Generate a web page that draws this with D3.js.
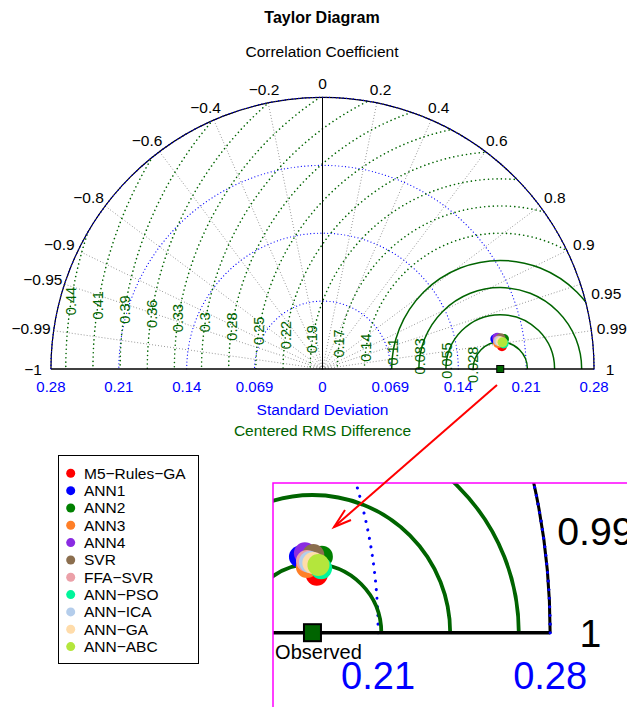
<!DOCTYPE html>
<html>
<head>
<meta charset="utf-8">
<script src="https://cdn.jsdelivr.net/npm/d3@7"></script>
<style>
  body { margin: 0; background: #fff; }
  svg { display: block; font-family: "Liberation Sans", Arial, sans-serif; }
</style>
</head>
<body>
<div id="chart"></div>
<script>
// --- Data ---
const modelNames  = ["M5−Rules−GA", "ANN1", "ANN2", "ANN3", "ANN4", "SVR", "FFA−SVR", "ANN−PSO", "ANN−ICA", "ANN−GA", "ANN−ABC"];
const modelColors = ["#ff0000", "#0000ff", "#008000", "#ff7f27", "#8a2be2", "#8b6e4e", "#eba0a8", "#00f59b", "#b4cdeb", "#ffdcaa", "#b4e63c"];
const modelStd    = [0.1844, 0.1788, 0.1875, 0.1809, 0.1810, 0.1842, 0.1813, 0.1865, 0.1824, 0.1837, 0.1856];
const modelCorr   = [0.9920, 0.9853, 0.9866, 0.9893, 0.9843, 0.9855, 0.9873, 0.9903, 0.9878, 0.9883, 0.9892];
const observedStd = 0.1812;

const stdMax        = 0.2768;
const stdTicks      = [0.0692, 0.1384, 0.2076, 0.2768];
const stdTickLabels = ["0.069", "0.14", "0.21", "0.28"];

const corrTicks      = [-1, -0.99, -0.95, -0.9, -0.8, -0.6, -0.4, -0.2, 0, 0.2, 0.4, 0.6, 0.8, 0.9, 0.95, 0.99, 1];
const corrTickLabels = ["−1", "−0.99", "−0.95", "−0.9", "−0.8", "−0.6", "−0.4", "−0.2", "0", "0.2", "0.4", "0.6", "0.8", "0.9", "0.95", "0.99", "1"];

const rmsTicks      = [0.0277, 0.0554, 0.0830, 0.1107, 0.1384, 0.1661, 0.1938, 0.2214, 0.2491, 0.2768, 0.3045, 0.3322, 0.3598, 0.3875, 0.4152, 0.4429];
const rmsTickLabels = ["0.028", "0.055", "0.083", "0.11", "0.14", "0.17", "0.19", "0.22", "0.25", "0.28", "0.3", "0.33", "0.36", "0.39", "0.41", "0.44"];

const GREEN = "#006400", BLUE = "#0000ff", GRAY = "#808080";

const svg = d3.select("#chart").append("svg")
    .attr("width", 627)
    .attr("height", 707);

function drawTaylor(g, o) {
    const s = d3.scaleLinear().domain([0, stdMax]).range([0, stdMax * o.pxPerUnit]);
    const R = s(stdMax);
    const f = o.f;
    const pt = (sd, ang) => [o.cx + s(sd) * Math.cos(ang), o.cy - s(sd) * Math.sin(ang)];
    const semi = (x, r) => {
        const p = d3.path();
        p.moveTo(x + r, o.cy);
        p.arc(x, o.cy, r, 0, -Math.PI, true);
        return p.toString();
    };
    // only keep texts that land inside the visible window (the inset is a crop)
    const inView = (x, y) => !o.box || (x > o.box[0] && x < o.box[2] && y > o.box[1] && y < o.box[3]);
    const obsX = o.cx + s(observedStd);

    const clipId = "semi-" + o.id;
    g.append("clipPath").attr("id", clipId)
        .append("path").attr("d", semi(o.cx, R + 0.5 * f) + "Z");

    // blue dotted std arcs
    g.append("g").selectAll("path")
        .data(stdTicks)
        .join("path")
        .attr("d", d => semi(o.cx, s(d)))
        .attr("fill", "none")
        .attr("stroke", BLUE)
        .attr("stroke-width", 1.2 * f)
        .attr("stroke-linecap", "round")
        .attr("stroke-dasharray", `0.01 ${3.4 * f}`);

    // gray correlation rays
    if (o.radials) {
        g.append("g").selectAll("line")
            .data(corrTicks.filter(c => Math.abs(c) < 1 && c !== 0))
            .join("line")
            .attr("x1", o.cx).attr("y1", o.cy)
            .attr("x2", d => pt(stdMax, Math.acos(d))[0])
            .attr("y2", d => pt(stdMax, Math.acos(d))[1])
            .attr("stroke", GRAY)
            .attr("stroke-width", 1)
            .attr("stroke-linecap", "round")
            .attr("stroke-dasharray", "0.01 3");
    }

    // green centered RMS arcs
    g.append("g").attr("clip-path", `url(#${clipId})`)
        .selectAll("path")
        .data(rmsTicks)
        .join("path")
        .attr("d", d => semi(obsX, s(d)))
        .attr("fill", "none")
        .attr("stroke", GREEN)
        .attr("stroke-width", (d, i) => (i < 4 ? 1.5 : 1.6) * f)
        .attr("stroke-linecap", (d, i) => i < 4 ? "butt" : "round")
        .attr("stroke-dasharray", (d, i) => i < 4 ? null : `0.01 ${4.3 * f}`);

    if (o.rmsLabels) {
        const a = 9 * Math.PI / 180;
        g.append("g").selectAll("text")
            .data(rmsTicks)
            .join("text")
            .attr("transform", d => `translate(${obsX - s(d) * Math.cos(a)},${o.cy - s(d) * Math.sin(a)}) rotate(-90)`)
            .attr("text-anchor", "middle")
            .attr("dominant-baseline", "central")
            .attr("font-size", 14.5 * f)
            .attr("fill", GREEN)
            .text((d, i) => rmsTickLabels[i]);
    }

    // axes lines
    g.append("line")
        .attr("x1", o.cx).attr("y1", o.cy).attr("x2", o.cx).attr("y2", o.cy - R)
        .attr("stroke", "#000").attr("stroke-width", 1 * f);
    g.append("line")
        .attr("x1", o.cx - R).attr("y1", o.cy).attr("x2", o.cx + R).attr("y2", o.cy)
        .attr("stroke", "#000").attr("stroke-width", 1.4 * f);
    g.append("path")
        .attr("d", semi(o.cx, R))
        .attr("fill", "none").attr("stroke", "#000").attr("stroke-width", 1.2 * f);
    g.append("path")
        .attr("d", semi(o.cx, R))
        .attr("fill", "none").attr("stroke", BLUE).attr("stroke-width", 1.2 * f)
        .attr("stroke-linecap", "round").attr("stroke-dasharray", `0.01 ${3.4 * f}`);

    // correlation labels
    corrTicks.forEach((c, i) => {
        const ang = Math.acos(c);
        const [x, y] = pt(stdMax, ang);
        const rOff = 14 * f;
        let lx = x + rOff * Math.cos(ang);
        let ly = y - rOff * Math.sin(ang);
        if (!inView(lx, ly)) return;
        const t = g.append("text")
            .attr("text-anchor", "middle")
            .attr("dominant-baseline", "central")
            .attr("font-size", 15.5 * f)
            .attr("fill", "#000")
            .text(corrTickLabels[i]);
        const w = t.node().getComputedTextLength();
        lx += 0.45 * (w / 2) * Math.cos(ang);
        if (c === 0.95) { lx += 6 * f; ly += 14 * f; }
        t.attr("x", lx).attr("y", ly);
    });

    // std tick labels
    const stdLab = g.append("g")
        .attr("font-size", 15 * f)
        .attr("fill", BLUE)
        .attr("text-anchor", "middle")
        .attr("dominant-baseline", "central");
    const ly = o.cy + 17 * f;
    stdTicks.forEach((t, i) => {
        [o.cx - s(t), o.cx + s(t)].forEach(x => {
            if (inView(x, ly)) stdLab.append("text").attr("x", x).attr("y", ly).text(stdTickLabels[i]);
        });
    });
    if (inView(o.cx, ly)) stdLab.append("text").attr("x", o.cx).attr("y", ly).text("0");

    // observed point
    g.append("rect")
        .attr("x", obsX - o.sq / 2).attr("y", o.cy - o.sq / 2)
        .attr("width", o.sq).attr("height", o.sq)
        .attr("fill", GREEN).attr("stroke", "#000").attr("stroke-width", o.sqStroke);
    if (o.obsLabel) {
        g.append("text")
            .attr("x", obsX + 6).attr("y", o.cy + 19)
            .attr("text-anchor", "middle")
            .attr("dominant-baseline", "central")
            .attr("font-size", 20)
            .text("Observed");
    }

    // models
    g.append("g").selectAll("circle")
        .data(modelNames)
        .join("circle")
        .attr("cx", (d, i) => pt(modelStd[i], Math.acos(modelCorr[i]))[0])
        .attr("cy", (d, i) => pt(modelStd[i], Math.acos(modelCorr[i]))[1])
        .attr("r", o.mr)
        .attr("fill", (d, i) => modelColors[i]);
}

// --- Titles ---
svg.append("text")
    .attr("x", 322).attr("y", 23)
    .attr("text-anchor", "middle")
    .attr("font-size", 16).attr("font-weight", "bold")
    .text("Taylor Diagram");
svg.append("text")
    .attr("x", 322).attr("y", 57)
    .attr("text-anchor", "middle")
    .attr("font-size", 15.5)
    .text("Correlation Coefficient");

// --- Main diagram ---
const main = svg.append("g");
drawTaylor(main, { id: "main", cx: 322.5, cy: 369, pxPerUnit: 981, f: 1, radials: true, rmsLabels: true,
    obsLabel: false, mr: 5, sq: 7, sqStroke: 1 });

svg.append("text")
    .attr("x", 322.5).attr("y", 409)
    .attr("text-anchor", "middle").attr("dominant-baseline", "central")
    .attr("font-size", 15.5).attr("fill", BLUE)
    .text("Standard Deviation");
svg.append("text")
    .attr("x", 322.5).attr("y", 430)
    .attr("text-anchor", "middle").attr("dominant-baseline", "central")
    .attr("font-size", 15.5).attr("fill", GREEN)
    .text("Centered RMS Difference");

// --- Legend ---
const legend = svg.append("g");
legend.append("rect")
    .attr("x", 58.5).attr("y", 455.5).attr("width", 140).attr("height", 208)
    .attr("fill", "#fff").attr("stroke", "#000").attr("stroke-width", 1);
modelNames.forEach((name, i) => {
    const y = 473.3 + i * 17.33;
    legend.append("circle").attr("cx", 70.7).attr("cy", y).attr("r", 4.5).attr("fill", modelColors[i]);
    legend.append("text")
        .attr("x", 84).attr("y", y)
        .attr("dominant-baseline", "central")
        .attr("font-size", 15.5)
        .text(name);
});

// --- Zoomed inset ---
const box = { x: 273, y: 483, w: 400, h: 300 };
svg.append("clipPath").attr("id", "inset-box")
    .append("rect").attr("x", box.x).attr("y", box.y).attr("width", box.w).attr("height", box.h);
const inset = svg.append("g").attr("clip-path", "url(#inset-box)");
inset.append("rect").attr("x", box.x).attr("y", box.y).attr("width", box.w).attr("height", box.h).attr("fill", "#fff");
drawTaylor(inset, { id: "inset", cx: -138, cy: 632.7, pxPerUnit: 2486, f: 2.534, radials: false, rmsLabels: false,
    obsLabel: true, mr: 11, sq: 17, sqStroke: 2, box: [box.x, box.y, box.x + box.w, box.y + box.h] });
svg.append("rect")
    .attr("x", box.x).attr("y", box.y).attr("width", box.w).attr("height", box.h)
    .attr("fill", "none").attr("stroke", "#ff00ff").attr("stroke-width", 1.5);

// --- Arrow from main cluster to inset ---
const arrow = svg.append("g").attr("stroke", "#ff0000").attr("stroke-width", 2).attr("fill", "none");
arrow.append("line").attr("x1", 497).attr("y1", 385).attr("x2", 334).attr("y2", 527);
arrow.append("polyline").attr("points", "345,510 334,527 351,520");
</script>
</body>
</html>
